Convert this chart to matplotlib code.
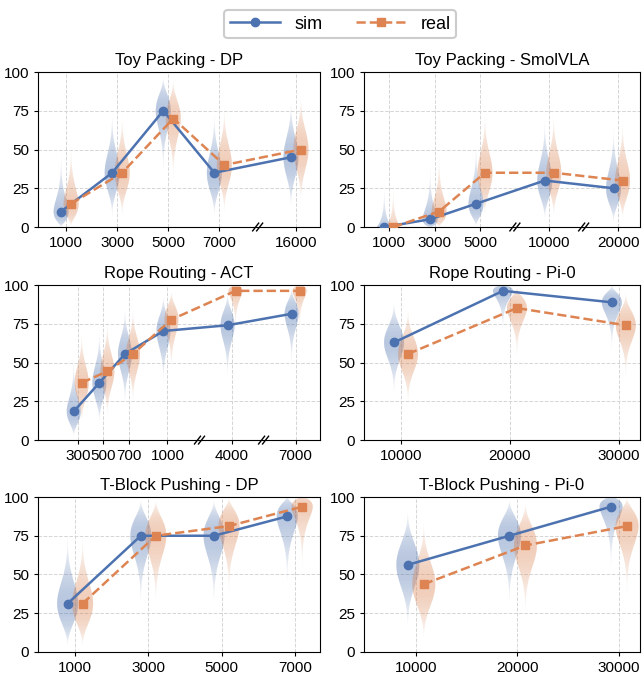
import numpy as np
import matplotlib
matplotlib.use('Agg')
import matplotlib.pyplot as plt
from matplotlib.collections import PolyCollection

plt.rcParams['font.family'] = ['Liberation Sans', 'DejaVu Sans']

#---data: success rate (%) per training-step checkpoint
toy_dp_steps = [1000, 3000, 5000, 7000, 16000]
toy_dp_sim = [10, 35, 75, 35, 45]
toy_dp_real = [15, 35, 70, 40, 50]

toy_smol_steps = [1000, 3000, 5000, 10000, 20000]
toy_smol_sim = [0, 5, 15, 30, 25]
toy_smol_real = [0, 10, 35, 35, 30]

rope_act_steps = [300, 500, 700, 1000, 4000, 7000]
rope_act_sim = [18.5, 37.0, 55.6, 70.4, 74.1, 81.5]
rope_act_real = [37.0, 44.4, 55.6, 77.8, 96.3, 96.3]

rope_pi0_steps = [10000, 20000, 30000]
rope_pi0_sim = [63.0, 96.3, 88.9]
rope_pi0_real = [55.6, 85.2, 74.1]

tblock_dp_steps = [1000, 3000, 5000, 7000]
tblock_dp_sim = [31.25, 75.0, 75.0, 87.5]
tblock_dp_real = [31.25, 75.0, 81.25, 93.75]

tblock_pi0_steps = [10000, 20000, 30000]
tblock_pi0_sim = [56.25, 75.0, 93.75]
tblock_pi0_real = [43.75, 68.75, 81.25]

#number of eval trials per checkpoint (drives violin spread)
trials = [20, 20, 27, 27, 16, 16]

titles = ['Toy Packing - DP', 'Toy Packing - SmolVLA', 'Rope Routing - ACT',
          'Rope Routing - Pi-0', 'T-Block Pushing - DP', 'T-Block Pushing - Pi-0']

#---layout (x positions on broken axes, limits, offsets in px)
panels = [
    dict(steps=toy_dp_steps, sim=toy_dp_sim, real=toy_dp_real,
         pos=[0, 1, 2, 3, 4.5], xlim=(-0.55, 4.97), breaks=[3.75], off=5, hw=7.5),
    dict(steps=toy_smol_steps, sim=toy_smol_sim, real=toy_smol_real,
         pos=[0, 1, 2, 3.5, 5], xlim=(-0.54, 5.48), breaks=[2.75, 4.25], off=4.5, hw=7.5),
    dict(steps=rope_act_steps, sim=rope_act_sim, real=rope_act_real,
         pos=[0.3, 0.5, 0.7, 1.0, 1.5, 2.0], xlim=(-0.01, 2.19), breaks=[1.25, 1.75], off=4, hw=7),
    dict(steps=rope_pi0_steps, sim=rope_pi0_sim, real=rope_pi0_real,
         pos=None, xlim=(6600, 31950), breaks=[], off=7, hw=10),
    dict(steps=tblock_dp_steps, sim=tblock_dp_sim, real=tblock_dp_real,
         pos=None, xlim=(-14, 7690), breaks=[], off=7.5, hw=10.5),
    dict(steps=tblock_pi0_steps, sim=tblock_pi0_sim, real=tblock_pi0_real,
         pos=None, xlim=(4900, 32070), breaks=[], off=8, hw=11.5),
]

blue = '#4C72B0'
orange = '#DD8452'


def violin(ax, x, p, n, hw, color):
    #fading violin from a beta-shaped density around the observed rate
    k = round(p / 100 * n)
    y = np.linspace(0, 100, 401)
    t = np.clip(y / 100, 1e-4, 1 - 1e-4)
    ld = k * np.log(t) + (n - k) * np.log(1 - t)
    d = np.exp(ld - ld.max())
    rgb = matplotlib.colors.to_rgb(color)
    polys, cols = [], []
    for i in range(len(y) - 1):
        w0, w1 = hw * d[i] ** 0.8, hw * d[i + 1] ** 0.8
        dm = (d[i] + d[i + 1]) / 2
        if dm < 0.002:
            continue
        polys.append([(x - w0, y[i]), (x + w0, y[i]), (x + w1, y[i + 1]), (x - w1, y[i + 1])])
        cols.append((*rgb, 0.45 * dm ** 0.35))
    pc = PolyCollection(polys, facecolors=cols, edgecolors='none', zorder=2)
    ax.add_collection(pc)


fig = plt.figure(figsize=(6.42, 6.75), dpi=100)
lefts = [0.0592, 0.567]
widths = [0.4392, 0.430]
bottoms = [0.6637, 0.348, 0.0341]
height = 0.2296

handles = None
for i, pnl in enumerate(panels):
    r, c = divmod(i, 2)
    ax = fig.add_axes([lefts[c], bottoms[r], widths[c], height])
    ax.set_xlim(*pnl['xlim'])
    ax.set_ylim(0, 100)
    xs = pnl['pos'] if pnl['pos'] is not None else pnl['steps']
    ax_px = widths[c] * 642
    upp = (pnl['xlim'][1] - pnl['xlim'][0]) / ax_px
    off = pnl['off'] * upp
    hw = pnl['hw'] * upp

    for x, s, rl in zip(xs, pnl['sim'], pnl['real']):
        violin(ax, x - off, s, trials[i], hw, blue)
        violin(ax, x + off, rl, trials[i], hw, orange)

    xs = np.array(xs, dtype=float)
    l1, = ax.plot(xs - off, pnl['sim'], '-o', color=blue, lw=1.8, ms=6, zorder=4, label='sim')
    l2, = ax.plot(xs + off, pnl['real'], '--s', color=orange, lw=1.8, ms=6, zorder=4, label='real')
    handles = [l1, l2]

    ax.set_xticks(xs)
    ax.set_xticklabels([str(s) for s in pnl['steps']])
    ax.set_yticks([0, 25, 50, 75, 100])
    ax.tick_params(labelsize=11, length=3)
    ax.grid(True, ls='--', color='#d5d5d5', lw=0.7, zorder=0)
    ax.set_axisbelow(True)
    ax.set_title(titles[i], fontsize=12, pad=5)

    #broken axis marks
    for b in pnl['breaks']:
        for dx in (-0.5, 3.5):
            trans = ax.get_xaxis_transform()
            bx = b + (dx - 1.5) * upp
            ax.plot([bx - 3 * upp, bx + 3 * upp], [-0.025, 0.025], color='black',
                    lw=1, transform=trans, clip_on=False, zorder=5)

leg = fig.legend(handles=handles, labels=['sim', 'real'], loc='upper center',
                 bbox_to_anchor=(0.53, 0.998), ncol=2, fontsize=13, frameon=True,
                 fancybox=True, edgecolor='#cccccc', framealpha=1, handlelength=2.8,
                 columnspacing=1.8, borderpad=0.3)
leg.get_frame().set_linewidth(1.5)

fig.savefig('out.png', dpi=100)
